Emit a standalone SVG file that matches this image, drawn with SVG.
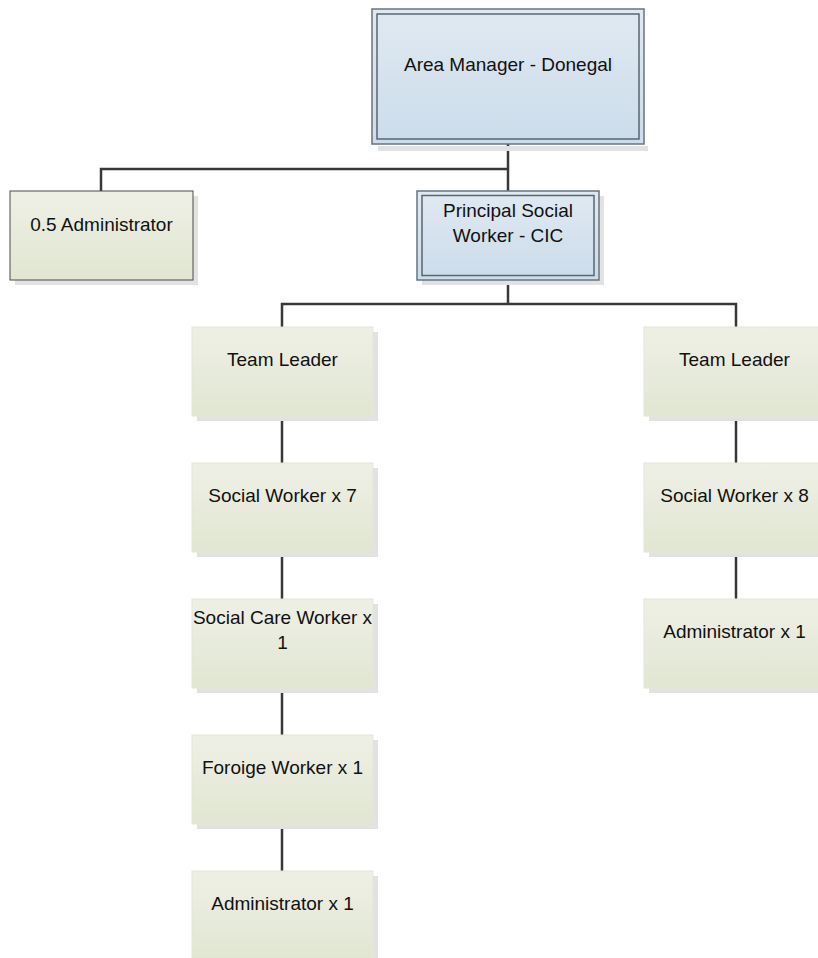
<svg xmlns="http://www.w3.org/2000/svg" width="818" height="958" viewBox="0 0 818 958">
<defs>
<linearGradient id="gBlue" x1="0" y1="0" x2="0" y2="1"><stop offset="0" stop-color="#e0e9f2"/><stop offset="1" stop-color="#cbdcea"/></linearGradient>
<linearGradient id="gGreen" x1="0" y1="0" x2="0" y2="1"><stop offset="0" stop-color="#eef0e5"/><stop offset="1" stop-color="#e1e6d2"/></linearGradient>
<style>
.shadow{fill:#e2e2e2}
.blue{fill:url(#gBlue);stroke:#6a747e;stroke-width:1.5}
.blueIn{fill:none;stroke:#5a6570;stroke-width:1.5}
.green{fill:url(#gGreen);stroke:#e3e6d6;stroke-width:1}
.greenDark{fill:url(#gGreen);stroke:#4a4a4a;stroke-width:1}
.lbl{font-family:"Liberation Sans",Arial,sans-serif;font-size:19px;fill:#111;text-anchor:middle}
.conn{fill:none;stroke:#383838;stroke-width:2.5}
</style>
</defs>
<g id="connectors">
<path class="conn" d="M508,143 V191"/>
<path class="conn" d="M101,191 V169 H508"/>
<path class="conn" d="M508,280 V304"/>
<path class="conn" d="M282,327 V304 H736 V327"/>
<path class="conn" d="M282,416 V463"/>
<path class="conn" d="M282,552 V599"/>
<path class="conn" d="M282,688 V735"/>
<path class="conn" d="M282,824 V871"/>
<path class="conn" d="M736,416 V463"/>
<path class="conn" d="M736,552 V599"/>
</g>
<g id="area-manager">
<rect class="shadow" x="378" y="146" width="270" height="5"/>
<rect class="blue" x="372" y="9" width="272" height="135"/>
<rect class="blueIn" x="377" y="14" width="262" height="125"/>
<text class="lbl" x="508" y="71">Area Manager - Donegal</text>
</g>
<g id="admin-05">
<rect class="shadow" x="15" y="196" width="183" height="89"/>
<rect class="greenDark" x="10" y="191" width="183" height="89"/>
<text class="lbl" x="101.5" y="231">0.5 Administrator</text>
</g>
<g id="principal">
<rect class="shadow" x="422" y="196" width="182" height="89"/>
<rect class="blue" x="417" y="191" width="182" height="89"/>
<rect class="blueIn" x="422" y="195.5" width="172" height="80"/>
<text class="lbl" x="508" y="217">Principal Social</text>
<text class="lbl" x="508" y="242">Worker - CIC</text>
</g>
<g id="team-leader-left">
<rect class="shadow" x="197" y="332" width="181" height="89"/>
<rect class="green" x="192" y="327" width="181" height="89"/>
<text class="lbl" x="282.5" y="366">Team Leader</text>
</g>
<g id="social-worker-7">
<rect class="shadow" x="197" y="468" width="181" height="89"/>
<rect class="green" x="192" y="463" width="181" height="89"/>
<text class="lbl" x="282.5" y="502">Social Worker x 7</text>
</g>
<g id="social-care-worker">
<rect class="shadow" x="197" y="604" width="181" height="89"/>
<rect class="green" x="192" y="599" width="181" height="89"/>
<text class="lbl" x="282.5" y="624">Social Care Worker x</text>
<text class="lbl" x="282.5" y="649">1</text>
</g>
<g id="foroige-worker">
<rect class="shadow" x="197" y="740" width="181" height="89"/>
<rect class="green" x="192" y="735" width="181" height="89"/>
<text class="lbl" x="282.5" y="774">Foroige Worker x 1</text>
</g>
<g id="admin-left">
<rect class="shadow" x="197" y="876" width="181" height="89"/>
<rect class="green" x="192" y="871" width="181" height="89"/>
<text class="lbl" x="282.5" y="910">Administrator x 1</text>
</g>
<g id="team-leader-right">
<rect class="shadow" x="649" y="332" width="181" height="89"/>
<rect class="green" x="644" y="327" width="181" height="89"/>
<text class="lbl" x="734.5" y="366">Team Leader</text>
</g>
<g id="social-worker-8">
<rect class="shadow" x="649" y="468" width="181" height="89"/>
<rect class="green" x="644" y="463" width="181" height="89"/>
<text class="lbl" x="734.5" y="502">Social Worker x 8</text>
</g>
<g id="admin-right">
<rect class="shadow" x="649" y="604" width="181" height="89"/>
<rect class="green" x="644" y="599" width="181" height="89"/>
<text class="lbl" x="734.5" y="638">Administrator x 1</text>
</g>
</svg>
